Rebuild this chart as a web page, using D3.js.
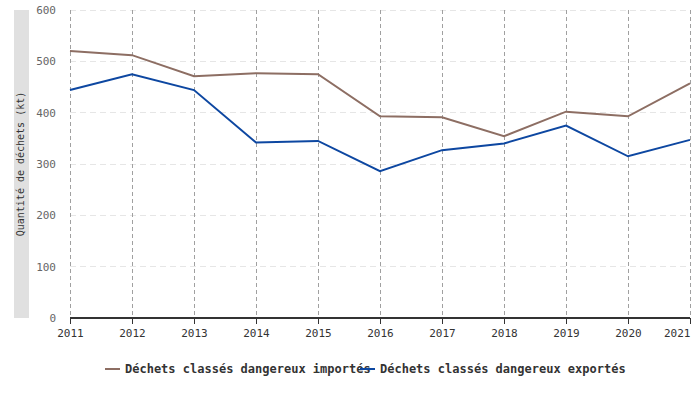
<!DOCTYPE html>
<html>
<head>
<meta charset="utf-8">
<script src="https://cdn.jsdelivr.net/npm/d3@7"></script>
<style>
  body { margin: 0; background: #fff; }
  svg text { font-family: "DejaVu Sans Mono", monospace; }
</style>
</head>
<body>
<svg id="chart" width="700" height="400"></svg>
<script>
// data
var years = [2011, 2012, 2013, 2014, 2015, 2016, 2017, 2018, 2019, 2020, 2021];
var importes = [520, 512, 471, 477, 475, 393, 391, 354, 402, 393, 457];
var exportes = [444, 475, 444, 342, 345, 286, 327, 340, 375, 315, 347];
var yTicks = [0, 100, 200, 300, 400, 500, 600];
var seriesNames = ['Déchets classés dangereux importés', 'Déchets classés dangereux exportés'];
var seriesColors = ['#8d6e63', '#0d47a1'];

var svg = d3.select('#chart');
var margin = { left: 70, right: 10, top: 10, bottom: 82 };
var width = 700 - margin.left - margin.right;
var height = 400 - margin.top - margin.bottom;

var x = d3.scaleLinear().domain([2011, 2021]).range([0, width]);
var y = d3.scaleLinear().domain([0, 600]).range([height, 0]);

var g = svg.append('g').attr('transform', 'translate(' + margin.left + ',' + margin.top + ')');

// y title band
svg.append('rect')
  .attr('x', 14).attr('y', margin.top)
  .attr('width', 15).attr('height', height)
  .style('fill', '#e0e0e0');
svg.append('text')
  .attr('transform', 'translate(24,' + (margin.top + height / 2) + ') rotate(-90)')
  .attr('text-anchor', 'middle')
  .style('font-size', '10px')
  .style('fill', '#333')
  .text('Quantité de déchets (kt)');

// horizontal grid
g.selectAll('.hgrid')
  .data(yTicks.filter(function (d) { return d > 0; }))
  .enter()
  .append('line')
  .attr('x1', 0).attr('x2', width)
  .attr('y1', function (d) { return y(d); })
  .attr('y2', function (d) { return y(d); })
  .attr('shape-rendering', 'crispEdges')
  .style('stroke', '#e6e6e6')
  .style('stroke-dasharray', '6,4');

// vertical grid
g.selectAll('.vgrid')
  .data(years)
  .enter()
  .append('line')
  .attr('x1', function (d) { return x(d) + 0.5; })
  .attr('x2', function (d) { return x(d) + 0.5; })
  .attr('y1', 0).attr('y2', height)
  .attr('shape-rendering', 'crispEdges')
  .style('stroke', '#a0a0a0')
  .style('stroke-dasharray', '4,3');

// y axis labels
var yAxis = g.append('g')
  .call(d3.axisLeft(y).tickValues(yTicks).tickSize(0).tickPadding(14));
yAxis.select('.domain').remove();
yAxis.selectAll('text')
  .style('font-family', '"DejaVu Sans Mono", monospace')
  .style('font-size', '11px')
  .style('fill', '#666');

// x axis
var xAxis = g.append('g')
  .attr('transform', 'translate(0,' + height + ')')
  .call(d3.axisBottom(x).tickValues(years).tickFormat(d3.format('d')).tickSize(6).tickPadding(5));
xAxis.select('.domain').remove();
xAxis.selectAll('line').style('stroke', '#333').attr('shape-rendering', 'crispEdges');
xAxis.selectAll('text')
  .style('font-family', '"DejaVu Sans Mono", monospace')
  .style('font-size', '11px')
  .style('fill', '#333')
  .attr('text-anchor', function (d, i) { return i === years.length - 1 ? 'end' : 'middle'; });

// baseline
g.append('line')
  .attr('x1', 0).attr('x2', width)
  .attr('y1', y(0)).attr('y2', y(0))
  .style('stroke', '#333')
  .style('stroke-width', 2);

// lines
var line = d3.line()
  .x(function (d, i) { return x(years[i]); })
  .y(function (d) { return y(d); });

[importes, exportes].forEach(function (vals, k) {
  g.append('path')
    .datum(vals)
    .attr('d', line)
    .style('fill', 'none')
    .style('stroke', seriesColors[k])
    .style('stroke-width', 2);
});

// legend
var legendX = [105, 360];
var legend = svg.selectAll('.legend')
  .data(seriesNames)
  .enter()
  .append('g')
  .attr('transform', function (d, i) { return 'translate(' + legendX[i] + ',369)'; });
legend.append('line')
  .attr('x1', 0).attr('x2', 15)
  .style('stroke', function (d, i) { return seriesColors[i]; })
  .style('stroke-width', 2);
legend.append('text')
  .attr('x', 20).attr('dy', '0.35em')
  .style('font-size', '12px')
  .style('font-weight', 'bold')
  .style('fill', '#333')
  .text(function (d) { return d; });
</script>
</body>
</html>
